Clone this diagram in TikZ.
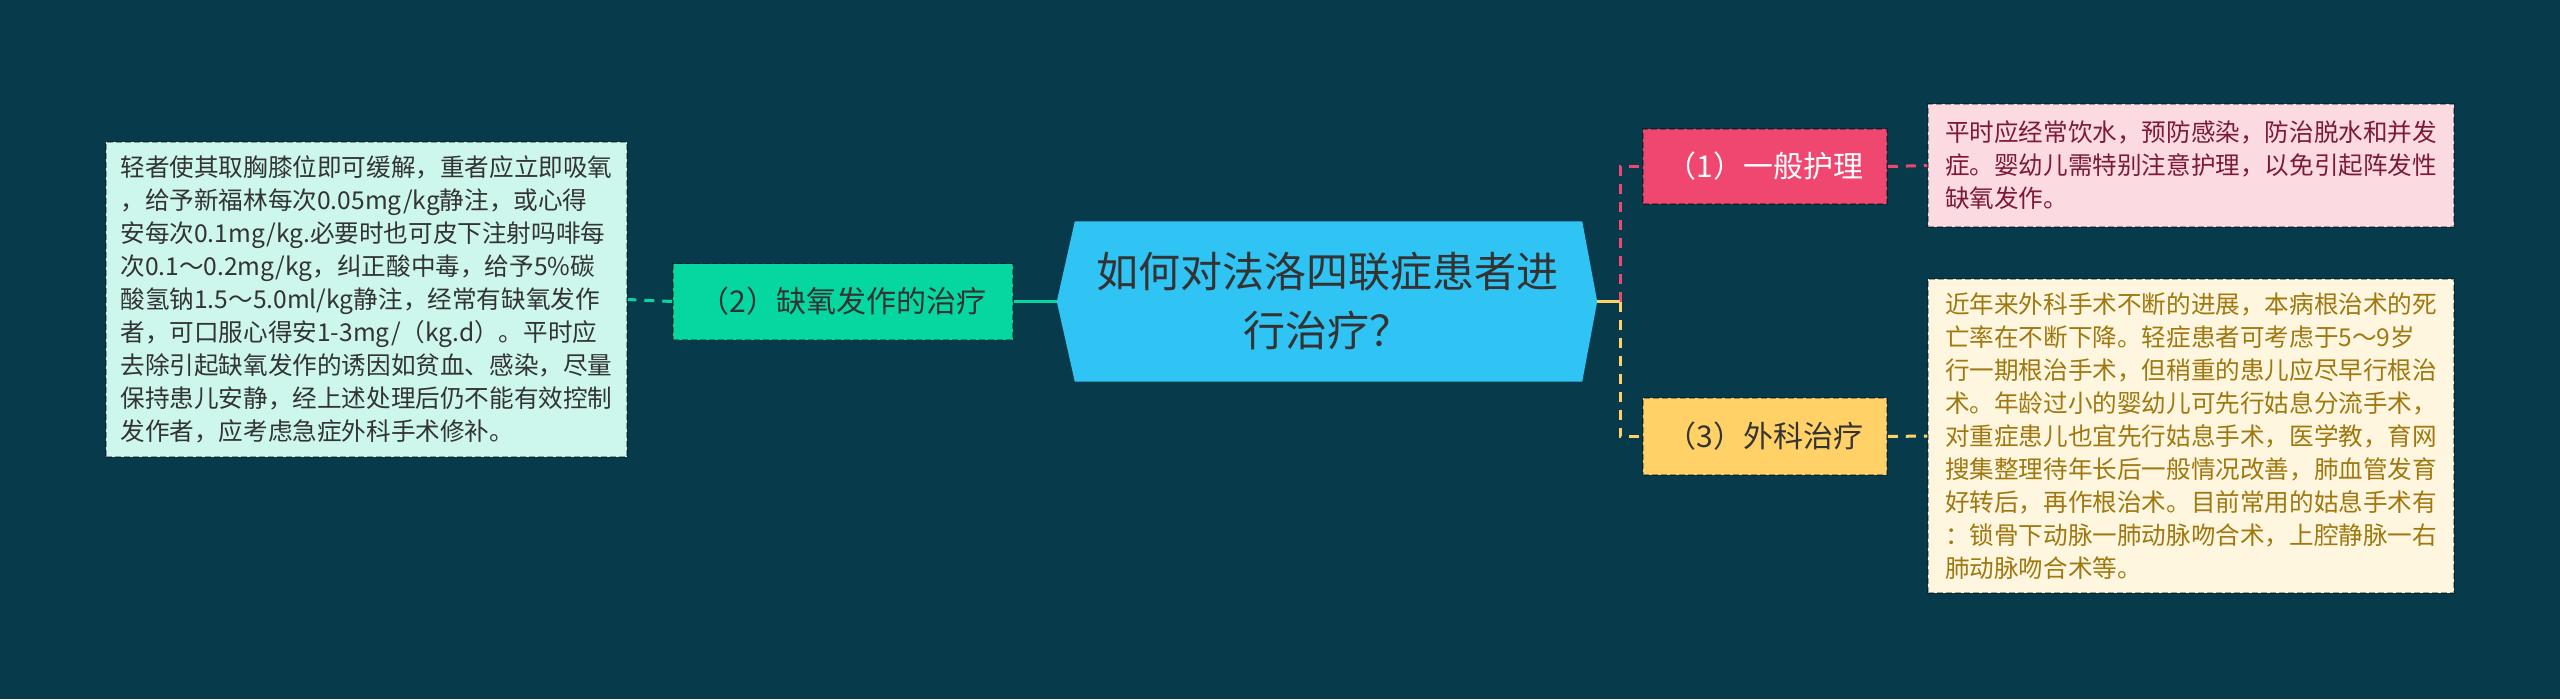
\documentclass[tikz,border=0pt]{standalone}
\usepackage{fontspec}
\setmainfont{Noto Sans CJK SC}
\usetikzlibrary{backgrounds}
\definecolor{bgc}{HTML}{073A4B}
\definecolor{hexc}{HTML}{30C4F4}
\definecolor{tealc}{HTML}{06D6A0}
\definecolor{pinkc}{HTML}{EF476F}
\definecolor{yelc}{HTML}{FFD166}
\definecolor{mintc}{HTML}{CDF7EC}
\definecolor{rosec}{HTML}{FCDAE2}
\definecolor{creamc}{HTML}{FFF6E0}
\definecolor{darktxt}{HTML}{333333}
\definecolor{maroon}{HTML}{7D1A35}
\definecolor{goldtxt}{HTML}{A07810}
\tikzset{
  conn/.style={line width=3pt},
  dsh/.style={dash pattern=on 10pt off 8pt},
  boxborder/.style={draw=black, draw opacity=0.35, dash pattern=on 6pt off 3pt, line width=1.5pt},
  topic/.style={rectangle, inner sep=0pt, boxborder, font=\fontsize{30}{36}\selectfont},
  leaf/.style={rectangle, inner sep=0pt, boxborder, align=left, font=\fontsize{24.6}{33}\selectfont},
}
\begin{document}
\begin{tikzpicture}[x=1pt,y=-1pt]
\useasboundingbox (0,0) rectangle (2560,699);

% central topic (hexagon drawn on background layer)
\node[rectangle, inner sep=0pt, minimum width=540pt, minimum height=160pt, align=center,
      text=darktxt, font=\fontsize{42}{59}\selectfont] (c) at (1327,301.5)
      {如何对法洛四联症患者进\\行治疗？};

% main topics
\node[topic, fill=tealc, text=darktxt, minimum width=340pt, minimum height=76pt] (n2) at (843,301.5) {（2）缺氧发作的治疗};
\node[topic, fill=pinkc, text=white, minimum width=244pt, minimum height=75pt] (n1) at (1765,166.5) {（1）一般护理};
\node[topic, fill=yelc, text=darktxt, minimum width=244pt, minimum height=77pt] (n3) at (1765,436.5) {（3）外科治疗};

% leaf boxes
\node[leaf, fill=mintc, text=darktxt, minimum width=521pt, minimum height=315pt] (lbox) at (366.5,299.5)
{轻者使其取胸膝位即可缓解，重者应立即吸氧\\
，给予新福林每次0.05mg/kg静注，或心得\\
安每次0.1mg/kg.必要时也可皮下注射吗啡每\\
次0.1～0.2mg/kg，纠正酸中毒，给予5\%碳\\
酸氢钠1.5～5.0ml/kg静注，经常有缺氧发作\\
者，可口服心得安1-3mg/（kg.d）。平时应\\
去除引起缺氧发作的诱因如贫血、感染，尽量\\
保持患儿安静，经上述处理后仍不能有效控制\\
发作者，应考虑急症外科手术修补。};

\node[leaf, fill=rosec, text=maroon, minimum width=526pt, minimum height=123pt] (pbox) at (2191,165.5)
{平时应经常饮水，预防感染，防治脱水和并发\\
症。婴幼儿需特别注意护理，以免引起阵发性\\
缺氧发作。};

\node[leaf, fill=creamc, text=goldtxt, minimum width=526pt, minimum height=314pt] (cbox) at (2191,436)
{近年来外科手术不断的进展，本病根治术的死\\
亡率在不断下降。轻症患者可考虑于5～9岁\\
行一期根治手术，但稍重的患儿应尽早行根治\\
术。年龄过小的婴幼儿可先行姑息分流手术，\\
对重症患儿也宜先行姑息手术，医学教，育网\\
搜集整理待年长后一般情况改善，肺血管发育\\
好转后，再作根治术。目前常用的姑息手术有\\
：锁骨下动脉一肺动脉吻合术，上腔静脉一右\\
肺动脉吻合术等。};

\coordinate (j) at (1620,301.5);

\begin{scope}[on background layer]
  \fill[bgc] (0,0) rectangle (2560,699);
  \fill[hexc] (c.west) -- ([xshift=18pt]c.north west) -- ([xshift=-15pt]c.north east)
     -- (c.east) -- ([xshift=-15pt]c.south east) -- ([xshift=18pt]c.south west) -- cycle;
\end{scope}

% connectors
\draw[conn, tealc] (c.west) -- (n2.east);
\draw[conn, dsh, tealc] (n2.west) -- (lbox.east);
\draw[conn, dsh, pinkc] (j) |- (n1.west);
\draw[conn, yelc] (c.east) -- (j);
\draw[conn, dsh, yelc] (j) |- (n3.west);
\draw[conn, dsh, pinkc] (n1.east) -- (pbox.west);
\draw[conn, dsh, yelc] (n3.east) -- (cbox.west);
\end{tikzpicture}
\end{document}
